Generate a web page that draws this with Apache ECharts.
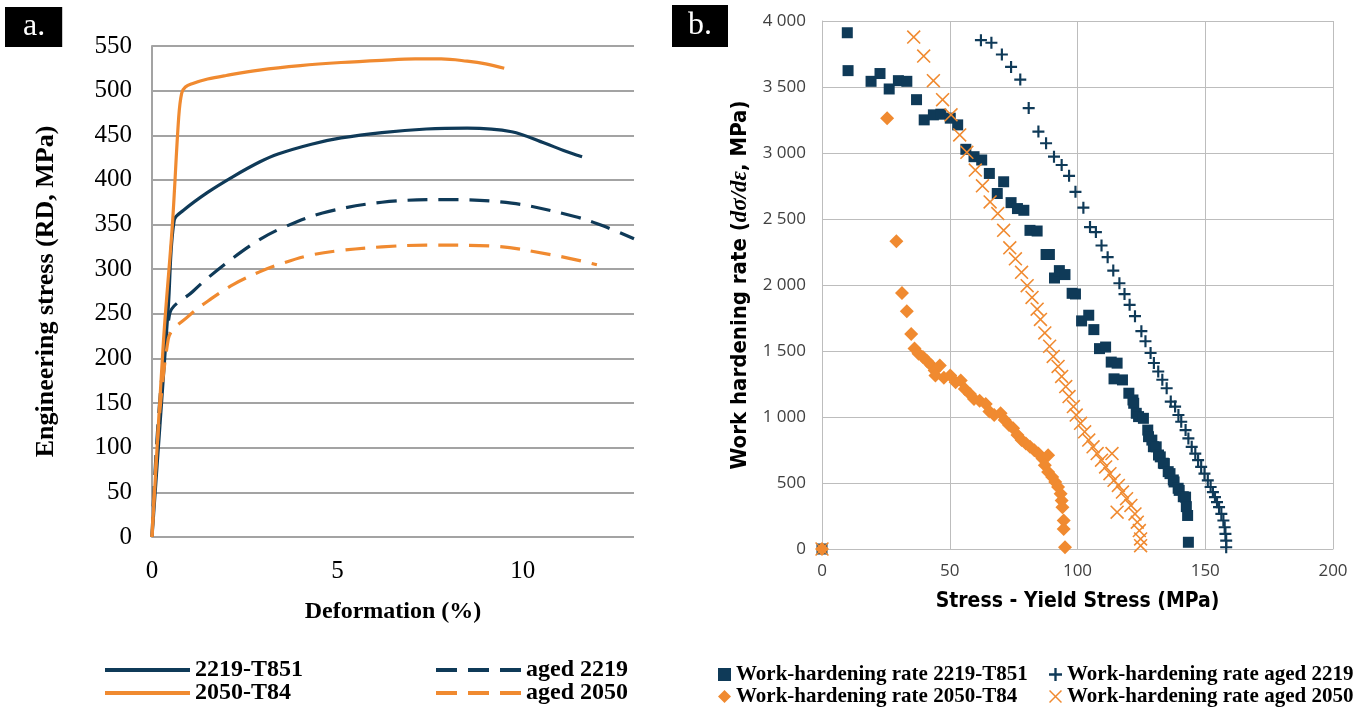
<!DOCTYPE html>
<html>
<head>
<meta charset="utf-8">
<script src="https://cdn.jsdelivr.net/npm/echarts@6/dist/echarts.min.js"></script>
<style>
html,body{margin:0;padding:0;background:#fff;}
#c{width:1356px;height:713px;}
</style>
</head>
<body>
<div id="c"></div>
<script>
// ---------- Panel a: engineering stress-strain curves ----------
const xTicksA = [0, 5, 10];
const yTicksA = [0, 50, 100, 150, 200, 250, 300, 350, 400, 450, 500, 550];

const defT851 = [0, 0.44, 0.6, 0.85, 1.5, 2.2, 2.9, 3.4, 4.3, 5.1, 6.2, 7.4, 8.5, 9.7, 10.6, 11.1, 11.6];
const strT851 = [0, 258, 355, 366, 386, 404, 420, 429, 440, 447, 453, 457, 458, 454, 441, 433, 426];

const defAged2219 = [0, 0.47, 1.1, 1.5, 2.2, 2.9, 3.5, 4.6, 6.2, 7.9, 9.7, 11.4, 12.2, 13.0];
const strAged2219 = [0, 249, 275, 290, 313, 333, 346, 363, 375, 378, 374, 359, 348, 334];

const defT84 = [0, 0.31, 0.55, 0.72, 0.8, 0.9, 1.1, 1.5, 2.0, 2.9, 4.0, 5.1, 6.2, 7.1, 7.8, 8.5, 9.0, 9.5];
const strT84 = [0, 220, 350, 470, 497, 504, 508, 513, 517, 523, 528, 531.5, 534, 535.5, 535.5, 533, 530, 525];

const defAged2050 = [0, 0.44, 1.0, 1.6, 2.2, 2.9, 3.4, 4.2, 5.1, 6.2, 7.4, 9.1, 10.8, 12.0];
const strAged2050 = [0, 222, 248, 267, 283, 297, 305, 315, 321, 325, 327, 326, 316, 305];

// ---------- Panel b: work hardening rate ----------
const xTicksB = [0, 50, 100, 150, 200];
const yTicksB = [0, 500, 1000, 1500, 2000, 2500, 3000, 3500, 4000];

const whT851_x = [0, 9.9, 10.2, 19.2, 22.7, 26.3, 29.9, 33.2, 37.0, 40.0, 43.6, 46.5, 50.2, 53.1, 56.3, 59.5, 62.5, 65.5, 68.6, 71.1, 74.0, 76.5, 79.0, 81.4, 84.2, 87.7, 89.0, 91.0, 92.9, 95.1, 97.9, 99.2, 101.6, 104.4, 106.4, 108.6, 111.0, 113.2, 115.5, 114.3, 117.6, 120.1, 121.7, 122.0, 123.0, 123.9, 125.8, 127.5, 127.8, 129.1, 129.7, 130.8, 131.7, 132.4, 133.6, 134.0, 135.5, 136.2, 137.5, 137.8, 139.4, 139.8, 141.4, 142.3, 142.6, 143.1, 143.4];
const whT851_y = [0, 3911, 3624, 3543, 3602, 3485, 3548, 3543, 3404, 3251, 3289, 3294, 3264, 3213, 3028, 2972, 2947, 2845, 2693, 2782, 2624, 2579, 2566, 2414, 2409, 2231, 2231, 2053, 2109, 2079, 1937, 1932, 1728, 1771, 1662, 1518, 1530, 1416, 1408, 1289, 1281, 1180, 1129, 1104, 1028, 1003, 990, 901, 851, 825, 775, 774, 712, 698, 650, 647, 586, 571, 523, 508, 460, 444, 396, 393, 321, 254, 51];

const whAged2219_x = [0, 62.2, 66.3, 70.4, 74.0, 77.6, 80.9, 84.7, 87.7, 90.8, 93.8, 96.7, 99.2, 102.3, 104.9, 107.2, 109.4, 111.8, 114.0, 116.4, 118.4, 120.4, 122.5, 125.0, 126.6, 128.6, 129.9, 131.6, 133.2, 134.9, 136.5, 138.2, 139.5, 140.6, 142.3, 143.4, 144.7, 146.1, 147.2, 148.4, 149.7, 151.0, 152.1, 153.0, 153.8, 154.6, 155.4, 156.3, 157.1, 157.6, 157.9, 158.2, 158.2];
const whAged2219_y = [0, 3855, 3835, 3746, 3652, 3556, 3340, 3162, 3074, 2972, 2909, 2827, 2706, 2586, 2439, 2401, 2299, 2211, 2109, 2013, 1931, 1850, 1764, 1650, 1574, 1485, 1409, 1345, 1282, 1218, 1117, 1079, 1015, 964, 901, 838, 774, 723, 673, 622, 571, 520, 470, 431, 393, 355, 317, 266, 216, 165, 114, 63, 13];

const whT84_x = [0, 25.5, 29.1, 31.3, 33.2, 34.9, 36.2, 37.8, 39.5, 41.1, 42.8, 44.1, 46.1, 44.4, 47.7, 50.2, 52.3, 54.3, 55.9, 57.9, 59.5, 61.7, 64.1, 65.5, 67.4, 69.9, 71.5, 73.2, 74.8, 76.5, 78.1, 79.8, 81.4, 83.1, 84.7, 86.3, 88.5, 87.2, 88.5, 90.1, 91.3, 92.4, 93.4, 93.8, 94.1, 94.6, 94.6, 95.1];
const whT84_y = [0, 3264, 2332, 1939, 1802, 1629, 1518, 1480, 1454, 1424, 1391, 1352, 1391, 1314, 1297, 1314, 1264, 1277, 1213, 1175, 1137, 1124, 1099, 1041, 1015, 1028, 977, 939, 914, 863, 825, 800, 774, 749, 723, 685, 711, 635, 584, 546, 508, 470, 419, 368, 317, 216, 152, 13];

const whAged2050_x = [0, 35.9, 39.8, 43.6, 47.2, 50.5, 53.9, 56.7, 60.0, 62.8, 65.8, 68.8, 71.1, 73.5, 75.7, 78.1, 80.3, 82.2, 84.2, 85.5, 87.2, 89.1, 90.5, 92.4, 93.8, 95.4, 96.7, 98.4, 99.5, 101.2, 102.8, 104.4, 106.1, 107.7, 109.4, 111.0, 113.5, 112.7, 114.3, 116.0, 117.6, 119.2, 120.9, 115.5, 122.5, 123.4, 124.2, 124.7, 124.7];
const whAged2050_y = [0, 3878, 3734, 3548, 3404, 3289, 3137, 3005, 2871, 2751, 2629, 2541, 2414, 2282, 2198, 2096, 1995, 1906, 1817, 1739, 1637, 1536, 1459, 1383, 1307, 1231, 1155, 1079, 1015, 952, 888, 825, 774, 723, 673, 622, 723, 571, 520, 482, 431, 381, 330, 279, 266, 203, 140, 76, 25];

const NAVY = '#0f3a58';
const ORANGE = '#f08a30';
const zip = (a, b) => a.map((v, i) => [v, b[i]]);

const SERIF = "'Liberation Serif', 'Times New Roman', serif";
const SANS = "'Open Sans', 'Liberation Sans', sans-serif";
const NARROW = "'Liberation Sans Narrow', 'DejaVu Sans Condensed', 'Open Sans', sans-serif";

const PLUS = 'path://M4.1,0H5.9V10H4.1Z M0,4.1H10V5.9H0Z';
const CROSS = 'path://M0,0.8L0.8,0L10,9.2L9.2,10Z M9.2,0L10,0.8L0.8,10L0,9.2Z';
const ICON_SOLID = 'path://M0,0H85V4H0Z';
const ICON_DASH = 'path://M0,0H21V4H0Z M32,0H53V4H32Z M64,0H85V4H64Z';

function fmtB(v) {
  if (v >= 1000) return Math.floor(v / 1000) + ' ' + String(v % 1000).padStart(3, '0');
  return String(v);
}

const chart = echarts.init(document.getElementById('c'), null, {renderer: 'canvas'});

const legLeftText = {fontFamily: SERIF, fontWeight: 'bold', fontSize: 24, color: '#000', lineHeight: 24};
const legRightText = {fontFamily: SERIF, fontWeight: 'bold', fontSize: 21, color: '#000', lineHeight: 21};
const legLeftBase = {itemWidth: 85, itemHeight: 4, textStyle: legLeftText, selectedMode: false};
const legRightBase = {itemWidth: 13, itemHeight: 13, textStyle: legRightText, selectedMode: false};

const option = {
  animation: false,
  backgroundColor: '#fff',
  title: [
    {text: 'a.', left: 5, top: 7, backgroundColor: '#000', padding: [4, 17, 4, 18],
     textStyle: {color: '#fff', fontFamily: SERIF, fontSize: 32, fontWeight: 'normal', lineHeight: 32}},
    {text: 'b.', left: 672, top: 5, backgroundColor: '#000', padding: [5, 16, 5, 16],
     textStyle: {color: '#fff', fontFamily: SERIF, fontSize: 32, fontWeight: 'normal', lineHeight: 32}}
  ],
  grid: [
    {left: 152, top: 46, width: 482, height: 491, containLabel: false},
    {left: 822, top: 21, width: 511, height: 528, containLabel: false}
  ],
  xAxis: [
    {gridIndex: 0, type: 'value', min: 0, max: 13, interval: 5,
     name: 'Deformation (%)', nameLocation: 'middle', nameGap: 63,
     nameTextStyle: {fontFamily: SERIF, fontWeight: 'bold', fontSize: 24, color: '#000'},
     axisLine: {show: false}, axisTick: {show: false}, splitLine: {show: false},
     axisLabel: {fontFamily: SERIF, fontSize: 25, color: '#000', margin: 22, showMaxLabel: false,
       formatter: v => xTicksA.includes(v) ? String(v) : ''}},
    {gridIndex: 1, type: 'value', min: 0, max: 200, interval: 50,
     name: 'Stress - Yield Stress (MPa)', nameLocation: 'middle', nameGap: 42,
     nameTextStyle: {fontFamily: NARROW, fontWeight: 'bold', fontSize: 21, color: '#000'},
     axisLine: {show: true, lineStyle: {color: '#bdbdbd', width: 1}}, axisTick: {show: false},
     splitLine: {show: true, lineStyle: {color: '#bdbdbd', width: 1}},
     axisLabel: {fontFamily: SANS, fontSize: 17, color: '#404040', margin: 14,
       formatter: v => xTicksB.includes(v) ? String(v) : ''}}
  ],
  yAxis: [
    {gridIndex: 0, type: 'value', min: 0, max: 550, interval: 50,
     name: 'Engineering stress (RD, MPa)', nameLocation: 'middle', nameRotate: 90, nameGap: 93,
     nameTextStyle: {fontFamily: SERIF, fontWeight: 'bold', fontSize: 26, color: '#000'},
     axisLine: {show: true, lineStyle: {color: '#a3a3a3', width: 2}}, axisTick: {show: false},
     splitLine: {show: true, lineStyle: {color: '#a3a3a3', width: 2}},
     axisLabel: {fontFamily: SERIF, fontSize: 25, color: '#000', margin: 20,
       formatter: v => yTicksA.includes(v) ? String(v) : ''}},
    {gridIndex: 1, type: 'value', min: 0, max: 4000, interval: 500,
     name: 'Work hardening rate ({i|dσ/dε}, MPa)', nameLocation: 'middle', nameRotate: 90, nameGap: 70,
     nameTextStyle: {fontFamily: NARROW, fontWeight: 'bold', fontSize: 22, color: '#000',
       rich: {i: {fontFamily: SERIF, fontStyle: 'italic', fontWeight: 'bold', fontSize: 23, color: '#000'}}},
     axisLine: {show: true, lineStyle: {color: '#bdbdbd', width: 1}}, axisTick: {show: false},
     splitLine: {show: true, lineStyle: {color: '#bdbdbd', width: 1}},
     axisLabel: {fontFamily: SANS, fontSize: 17, color: '#404040', margin: 16,
       formatter: v => yTicksB.includes(v) ? fmtB(v) : ''}}
  ],
  legend: [
    Object.assign({data: [{name: '2219-T851', icon: ICON_SOLID}], left: 100, top: 653}, legLeftBase),
    Object.assign({data: [{name: '2050-T84', icon: ICON_SOLID}], left: 100, top: 676}, legLeftBase),
    Object.assign({data: [{name: 'aged 2219', icon: ICON_DASH}], left: 431, top: 653}, legLeftBase),
    Object.assign({data: [{name: 'aged 2050', icon: ICON_DASH}], left: 431, top: 676}, legLeftBase),
    Object.assign({data: [{name: 'Work-hardening rate 2219-T851', icon: 'rect'}], left: 713, top: 659}, legRightBase),
    Object.assign({data: [{name: 'Work-hardening rate 2050-T84', icon: 'diamond'}], left: 713, top: 681}, legRightBase),
    Object.assign({data: [{name: 'Work-hardening rate aged 2219', icon: PLUS}], left: 1044, top: 659}, legRightBase),
    Object.assign({data: [{name: 'Work-hardening rate aged 2050', icon: CROSS}], left: 1044, top: 681}, legRightBase)
  ],
  series: [
    {name: '2219-T851', type: 'line', xAxisIndex: 0, yAxisIndex: 0, data: zip(defT851, strT851),
     symbol: 'none', smooth: 0.35, color: NAVY,
     lineStyle: {color: NAVY, width: 3.2, type: 'solid'}},
    {name: 'aged 2219', type: 'line', xAxisIndex: 0, yAxisIndex: 0, data: zip(defAged2219, strAged2219),
     symbol: 'none', smooth: 0.35, color: NAVY,
     lineStyle: {color: NAVY, width: 3.2, type: [20, 11]}},
    {name: '2050-T84', type: 'line', xAxisIndex: 0, yAxisIndex: 0, data: zip(defT84, strT84),
     symbol: 'none', smooth: 0.35, color: ORANGE,
     lineStyle: {color: ORANGE, width: 3.2, type: 'solid'}},
    {name: 'aged 2050', type: 'line', xAxisIndex: 0, yAxisIndex: 0, data: zip(defAged2050, strAged2050),
     symbol: 'none', smooth: 0.35, color: ORANGE,
     lineStyle: {color: ORANGE, width: 3.2, type: [20, 11]}},

    {name: 'Work-hardening rate 2219-T851', type: 'scatter', xAxisIndex: 1, yAxisIndex: 1,
     data: zip(whT851_x, whT851_y), symbol: 'rect', symbolSize: 11,
     itemStyle: {color: NAVY, opacity: 1}},
    {name: 'Work-hardening rate aged 2219', type: 'scatter', xAxisIndex: 1, yAxisIndex: 1,
     data: zip(whAged2219_x, whAged2219_y), symbol: PLUS, symbolSize: 12,
     itemStyle: {color: NAVY, opacity: 1}},
    {name: 'Work-hardening rate 2050-T84', type: 'scatter', xAxisIndex: 1, yAxisIndex: 1,
     data: zip(whT84_x, whT84_y), symbol: 'diamond', symbolSize: 14,
     itemStyle: {color: ORANGE, opacity: 1}},
    {name: 'Work-hardening rate aged 2050', type: 'scatter', xAxisIndex: 1, yAxisIndex: 1,
     data: zip(whAged2050_x, whAged2050_y), symbol: CROSS, symbolSize: 14,
     itemStyle: {color: ORANGE, opacity: 1}}
  ]
};

chart.setOption(option);
</script>
</body>
</html>
